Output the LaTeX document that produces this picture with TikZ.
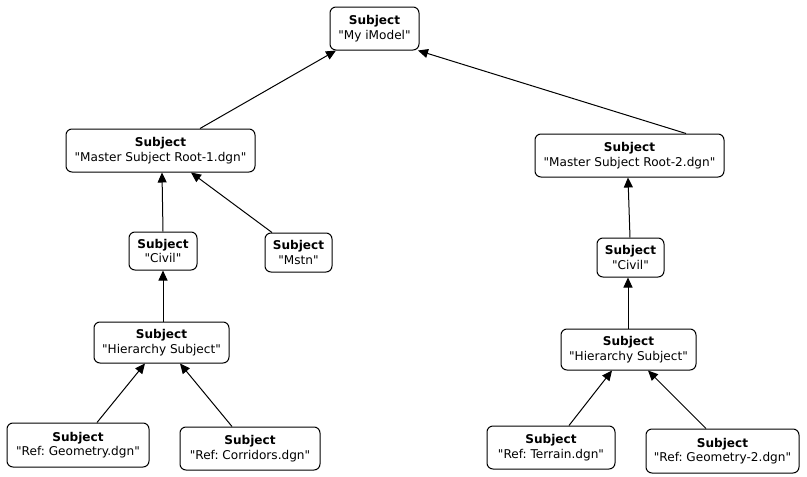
\documentclass[tikz,border=0pt]{standalone}
\usepackage{fontspec}
\setmainfont{DejaVu Sans}
\usetikzlibrary{arrows.meta}
\newcommand{\qtd}[1]{\textquotedbl#1\textquotedbl}
\begin{document}
\frenchspacing
\begin{tikzpicture}[x=1pt,y=-1pt,
  subj/.style={draw,line width=1pt,rounded corners=6pt,align=center,inner sep=0pt,
    font=\fontsize{12.1}{14.5}\selectfont},
  arr/.style={line width=1pt,-{Triangle[length=10pt,width=9pt]}}]
\useasboundingbox (0,0) rectangle (807,477);
\node[subj,minimum width=89pt,minimum height=43pt] (top) at (374.5,28.5) {\textbf{Subject}\\\qtd{My iModel}};
\node[subj,minimum width=189pt,minimum height=43pt] (root1) at (160.5,150.5) {\textbf{Subject}\\\qtd{Master Subject Root-1.dgn}};
\node[subj,minimum width=189pt,minimum height=43pt] (root2) at (629.5,155.5) {\textbf{Subject}\\\qtd{Master Subject Root-2.dgn}};
\node[subj,minimum width=68pt,minimum height=38pt] (civil1) at (163,251) {\textbf{Subject}\\\qtd{Civil}};
\node[subj,minimum width=67pt,minimum height=39pt] (mstn) at (298.5,252.5) {\textbf{Subject}\\\qtd{Mstn}};
\node[subj,minimum width=135pt,minimum height=41pt] (hier1) at (161.5,342.5) {\textbf{Subject}\\\qtd{Hierarchy Subject}};
\node[subj,minimum width=67pt,minimum height=39pt] (civil2) at (630.5,257.5) {\textbf{Subject}\\\qtd{Civil}};
\node[subj,minimum width=135pt,minimum height=41pt] (hier2) at (628.5,349.5) {\textbf{Subject}\\\qtd{Hierarchy Subject}};
\node[subj,minimum width=142pt,minimum height=44pt] (geo) at (78,445) {\textbf{Subject}\\\qtd{Ref: Geometry.dgn}};
\node[subj,minimum width=140pt,minimum height=43pt] (corr) at (250,448.5) {\textbf{Subject}\\\qtd{Ref: Corridors.dgn}};
\node[subj,minimum width=128pt,minimum height=43pt] (terr) at (551,447.5) {\textbf{Subject}\\\qtd{Ref: Terrain.dgn}};
\node[subj,minimum width=153pt,minimum height=44pt] (geo2) at (722.5,451) {\textbf{Subject}\\\qtd{Ref: Geometry-2.dgn}};
\draw[arr] ([xshift=39.5pt]root1.north) -- ([xshift=-38.5pt]top.south);
\draw[arr] ([xshift=56.5pt]root2.north) -- ([xshift=43.5pt]top.south);
\draw[arr] (civil1.north) -- ([xshift=1.5pt]root1.south);
\draw[arr] ([xshift=-26.5pt]mstn.north) -- ([xshift=30.5pt]root1.south);
\draw[arr] ([xshift=1.5pt]hier1.north) -- (civil1.south);
\draw[arr] ([xshift=19pt]geo.north) -- ([xshift=-16.5pt]hier1.south);
\draw[arr] ([xshift=-18pt]corr.north) -- ([xshift=18.5pt]hier1.south);
\draw[arr] ([xshift=-0.5pt]civil2.north) -- ([xshift=-1.5pt]root2.south);
\draw[arr] ([xshift=-0.5pt]hier2.north) -- ([xshift=-2.5pt]civil2.south);
\draw[arr] ([xshift=18pt]terr.north) -- ([xshift=-16.5pt]hier2.south);
\draw[arr] ([xshift=-16.5pt]geo2.north) -- ([xshift=19.5pt]hier2.south);
\end{tikzpicture}
\end{document}
